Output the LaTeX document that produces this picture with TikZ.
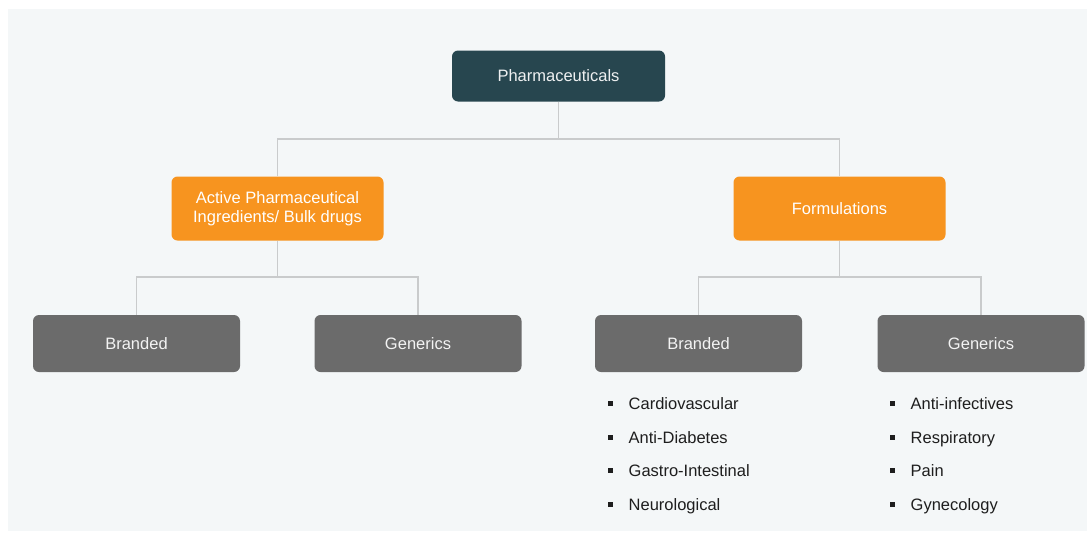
\documentclass[tikz,border=0pt]{standalone}
\usepackage{fontspec}
\setmainfont{Liberation Sans}
\definecolor{bgc}{HTML}{F4F7F8}
\definecolor{darkc}{HTML}{27464F}
\definecolor{orangec}{HTML}{F7941F}
\definecolor{grayc}{HTML}{6B6B6B}
\definecolor{linec}{HTML}{C9CBCC}
\definecolor{itemc}{HTML}{1E1E1E}
\begin{document}
\begin{tikzpicture}[x=1pt,y=-1pt,
  box/.style={rounded corners=6pt, inner sep=0pt, align=center,
    font=\fontsize{16.5}{19}\selectfont},
  topbox/.style={box, fill=darkc, text=white!92!darkc, minimum width=213pt, minimum height=51pt},
  midbox/.style={box, fill=orangec, text=white, minimum width=212pt, minimum height=64pt},
  leafbox/.style={box, fill=grayc, text=white!92!grayc, minimum width=207pt, minimum height=57pt},
  conn/.style={draw=linec, line width=1.2pt},
  item/.style={anchor=base west, inner sep=0pt, text=itemc, font=\fontsize{16.5}{19}\selectfont}
]
\useasboundingbox (0,0) rectangle (1087,533);
\fill[bgc] (8,9) rectangle (1087,531);

\node[topbox] (ph) at (558.5,76) {Pharmaceuticals};
\node[midbox] (api) at (277.5,208.5) {Active Pharmaceutical\\Ingredients/ Bulk drugs};
\node[midbox] (form) at (839.5,208.5) {Formulations};
\node[leafbox] (ab) at (136.5,343.5) {Branded};
\node[leafbox] (ag) at (418,343.5) {Generics};
\node[leafbox] (fb) at (698.5,343.5) {Branded};
\node[leafbox] (fg) at (981,343.5) {Generics};

\coordinate (j1) at (558.5,139);
\coordinate (j2) at (277.5,277);
\coordinate (j3) at (839.5,277);

\draw[conn] (ph.south) -- (j1);
\draw[conn] (api.north) |- (j1) -| (form.north);
\draw[conn] (api.south) -- (j2);
\draw[conn] (ab.north) |- (j2) -| (ag.north);
\draw[conn] (form.south) -- (j3);
\draw[conn] (fb.north) |- (j3) -| (fg.north);

\newcommand{\bul}{\rule[3.5pt]{5pt}{5pt}\hspace{15.5pt}}
\node[item] (b1) at (608,409) {\bul Cardiovascular};
\node[item] (b2) at (608,443) {\bul Anti-Diabetes};
\node[item] (b3) at (608,476) {\bul Gastro-Intestinal};
\node[item] (b4) at (608,510) {\bul Neurological};
\node[item] (g1) at (890,409) {\bul Anti-infectives};
\node[item] (g2) at (890,443) {\bul Respiratory};
\node[item] (g3) at (890,476) {\bul Pain};
\node[item] (g4) at (890,510) {\bul Gynecology};
\end{tikzpicture}
\end{document}
